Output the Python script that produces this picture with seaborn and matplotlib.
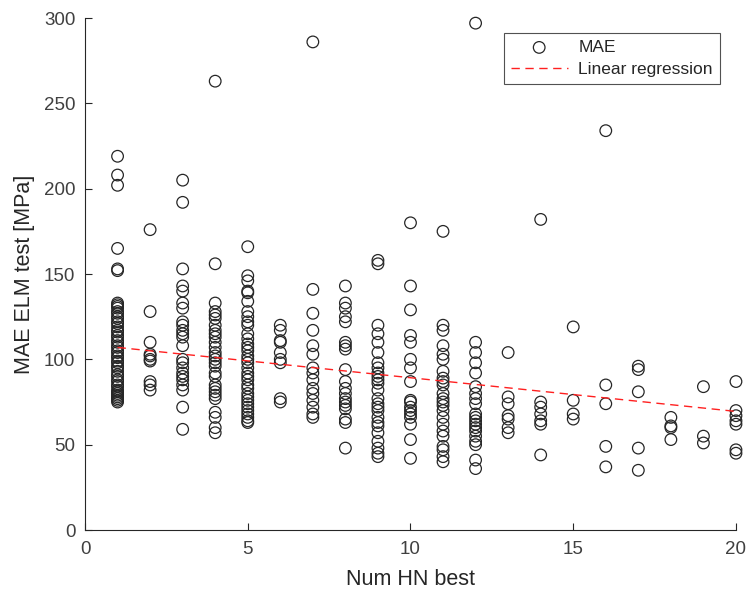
import numpy as np
import pandas as pd
import matplotlib
matplotlib.use("Agg")
import matplotlib.pyplot as plt
import seaborn as sns

# MAE values per "Num HN best" column
col_values = {
    1: [219, 208, 202, 165, 153, 152, 133, 132, 131, 130, 128, 127, 125, 124, 122, 121,
        119, 117, 116, 114, 113, 111, 110, 108, 107, 105, 104, 102, 101, 99, 98, 96,
        95, 93, 91, 90, 88, 87, 85, 84, 82, 81, 80, 79, 78, 77, 76, 75],
    2: [176, 128, 110, 103, 102, 100, 99, 87, 85, 82],
    3: [205, 192, 153, 143, 140, 133, 130, 122, 120, 117, 115, 113, 108, 100, 98,
        95, 92, 90, 88, 85, 82, 72, 59],
    4: [263, 156, 133, 128, 126, 124, 120, 117, 115, 113, 110, 107, 104, 102, 100,
        98, 96, 92, 90, 85, 83, 81, 79, 77, 69, 66, 60, 57],
    5: [166, 149, 146, 140, 139, 134, 128, 125, 122, 120, 115, 112, 109, 107, 105,
        102, 100, 98, 95, 92, 90, 88, 85, 83, 80, 78, 76, 74, 72, 70, 68, 66, 64, 63],
    6: [120, 117, 111, 110, 104, 100, 98, 77, 75],
    7: [286, 141, 127, 117, 108, 103, 95, 92, 88, 83, 80, 76, 72, 68, 66],
    8: [143, 133, 130, 125, 122, 110, 108, 106, 94, 87, 83, 80, 77, 75, 73, 71, 65, 63, 48],
    9: [158, 156, 120, 115, 110, 104, 98, 95, 92, 90, 88, 86, 82, 77, 74, 72, 70,
        66, 63, 61, 57, 52, 48, 45, 43],
    10: [180, 143, 129, 114, 110, 100, 95, 87, 76, 75, 72, 70, 68, 66, 62, 53, 42],
    11: [175, 120, 117, 108, 103, 100, 93, 89, 87, 85, 80, 77, 75, 73, 70, 66, 62,
         58, 55, 49, 47, 43, 40],
    12: [297, 110, 104, 98, 92, 84, 80, 77, 74, 68, 66, 64, 62, 60, 58, 55, 52, 50, 41, 36],
    13: [104, 78, 74, 67, 65, 60, 57],
    14: [182, 75, 72, 68, 64, 62, 44],
    15: [119, 76, 68, 65],
    16: [234, 85, 74, 49, 37],
    17: [96, 94, 81, 48, 35],
    18: [66, 61, 60, 53],
    19: [84, 55, 51],
    20: [87, 70, 67, 64, 62, 47, 45],
}

# regression line endpoints
reg_x = [1, 20]
reg_y = [107, 69.5]

x_ticks = [0, 5, 10, 15, 20]
y_ticks = [0, 50, 100, 150, 200, 250, 300]

rows = [(k, v) for k, vals in col_values.items() for v in vals]
df = pd.DataFrame(rows, columns=["hn", "mae"])

sns.set_theme(style="white")
plt.rcParams['font.family'] = ['Liberation Sans', 'DejaVu Sans']

fig = plt.figure(figsize=(7.49, 5.93), dpi=100)
ax = fig.add_axes([0.1135, 0.1062, 0.8691, 0.8634])

sns.scatterplot(data=df, x="hn", y="mae", ax=ax, marker="o", s=70,
                facecolor="none", edgecolor="#262626", linewidth=0.9,
                label="MAE", zorder=3, clip_on=False)
ax.plot(reg_x, reg_y, color="#ff2020", linestyle=(0, (6, 4)), linewidth=1.0,
        label="Linear regression", zorder=4)

ax.set_xlim(0, 20)
ax.set_ylim(0, 300)
ax.set_xticks(x_ticks)
ax.set_yticks(y_ticks)
ax.tick_params(bottom=True, left=True, direction="in", length=5, width=0.8,
               colors="#262626", labelsize=13.5, labelcolor="#404040", pad=7)
ax.tick_params(axis="x", pad=8)
for s in ["top", "right"]:
    ax.spines[s].set_visible(False)
for s in ["left", "bottom"]:
    ax.spines[s].set_color("#262626")
    ax.spines[s].set_linewidth(0.8)

ax.set_xlabel("Num HN best", fontsize=15.5, color="#262626", labelpad=8)
ax.set_ylabel("MAE ELM test [MPa]", fontsize=15.5, color="#262626", labelpad=6)

leg = ax.legend(loc="upper right", bbox_to_anchor=(0.975, 0.971), borderaxespad=0,
                fontsize=12.5, frameon=True, fancybox=False, edgecolor="#262626",
                handlelength=3.3, borderpad=0.4, labelspacing=0.4,
                handletextpad=0.6)
leg.get_frame().set_linewidth(0.8)

fig.savefig("out.png", dpi=100)
